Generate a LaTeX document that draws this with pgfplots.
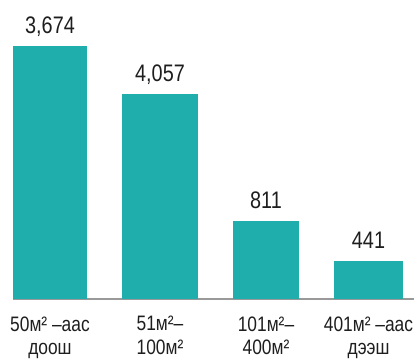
\documentclass[border=0pt]{standalone}
\usepackage{fontspec}
\setmainfont{Liberation Sans}[FakeStretch=0.83]
\usepackage{pgfplots}
\pgfplotsset{compat=1.18}
\definecolor{barc}{HTML}{1FAEAC}
\definecolor{txt}{HTML}{1E1E1E}
\begin{document}
\begin{tikzpicture}
\begin{axis}[
  scale only axis, width=401bp, height=299bp,
  xmin=13, xmax=414, ymin=0, ymax=299,
  axis x line=bottom, axis y line=none,
  x axis line style={-, draw=gray!80, line width=2bp},
  xtick={50,160,266,368.5},
  xticklabels={{50м² –аас\\доош},{51м²–\\100м²},{101м²–\\400м²},{401м² –аас\\дээш}},
  xtick style={draw=none},
  xticklabel style={align=center, font=\fontsize{21}{23.5}\selectfont, text=txt, anchor=north, inner sep=0pt, yshift=-13bp},
  ybar, bar shift=0pt,
  clip=false,
  point meta=explicit symbolic,
  nodes near coords,
  nodes near coords style={font=\fontsize{24}{28}\selectfont, text=txt, anchor=base, inner sep=0pt, yshift=12bp},
]
\addplot[fill=barc, draw=none, bar width=74] table[meta=lab] {
x y lab
50 253 3,674
};
\addplot[fill=barc, draw=none, bar width=76] table[meta=lab] {
x y lab
160 205 4,057
};
\addplot[fill=barc, draw=none, bar width=66] table[meta=lab] {
x y lab
266 78 811
};
\addplot[fill=barc, draw=none, bar width=69] table[meta=lab] {
x y lab
368.5 38 441
};
\end{axis}
\pgfresetboundingbox
\useasboundingbox (-13bp,-60bp) rectangle (401bp,299bp);
\end{tikzpicture}
\end{document}
